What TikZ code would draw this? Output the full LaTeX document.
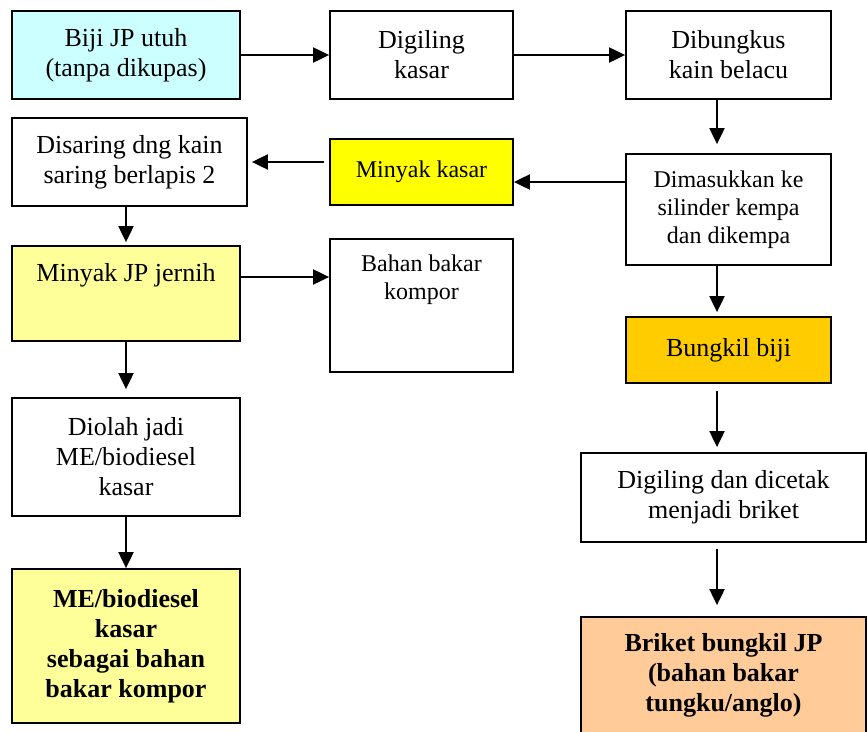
\documentclass[tikz,border=0pt]{standalone}
\usepackage{fontspec}
\setmainfont{Liberation Serif}
\usetikzlibrary{arrows.meta}
\definecolor{birumuda}{HTML}{CCFFFF}
\definecolor{kuning}{HTML}{FFFF00}
\definecolor{kuningmuda}{HTML}{FFFF99}
\definecolor{emas}{HTML}{FFCC00}
\definecolor{jingga}{HTML}{FFCC99}
\tikzset{
  box/.style={draw, line width=1.8pt, fill=white, align=center, inner sep=2pt,
    font=\fontsize{26}{30}\selectfont},
  smallbox/.style={box, font=\fontsize{24}{28}\selectfont},
  toptext/.style={anchor=north, inner sep=0pt, align=center},
  arr/.style={-{Triangle[length=16pt,width=15pt]}, line width=2pt},
}
\begin{document}
\begin{tikzpicture}[x=1pt,y=-1pt]
            \useasboundingbox (0,0) rectangle (867,731);

            \node[box, fill=birumuda, minimum width=228pt, minimum height=88pt] (biji) at (126,55) {Biji JP utuh\\(tanpa dikupas)};
            \node[box, minimum width=183pt, minimum height=88pt] (digiling) at (421.5,55) {Digiling\\kasar};
            \node[box, minimum width=205pt, minimum height=88pt] (bungkus) at (728.5,55) {Dibungkus\\kain belacu};

            \node[box, minimum width=235pt, minimum height=88pt] (saring) at (129.5,162) {Disaring dng kain\\saring berlapis 2};
            \node[smallbox, fill=kuning, minimum width=183pt, minimum height=66pt] (mkasar) at (421.5,172) {Minyak kasar};
            \node[smallbox, minimum width=205pt, minimum height=111pt] (kempa) at (728.5,209.5) {Dimasukkan ke\\silinder kempa\\dan dikempa};

            \node[box, fill=kuningmuda, minimum width=228pt, minimum height=95pt] (jernih) at (126,293.5) {};
            \node[toptext, font=\fontsize{26}{30}\selectfont] (jernihteks) at ([yshift=-18pt]jernih.north) {Minyak JP jernih};
            \node[smallbox, minimum width=183pt, minimum height=133pt] (kompor) at (421.5,305.5) {};
            \node[toptext, font=\fontsize{24}{28}\selectfont] (komporteks) at ([yshift=-17pt]kompor.north) {Bahan bakar\\kompor};
            \node[box, fill=emas, minimum width=205pt, minimum height=66pt] (bungkil) at (728.5,350) {Bungkil biji};

            \node[box, minimum width=228pt, minimum height=118pt] (olah) at (126,457) {Diolah jadi\\ME/biodiesel\\kasar};
            \node[box, minimum width=285pt, minimum height=89pt] (cetak) at (723.5,497.5) {Digiling dan dicetak\\menjadi briket};

            \node[box, fill=kuningmuda, minimum width=228pt, minimum height=154pt, font=\fontsize{26}{30}\selectfont\bfseries] (biodiesel) at (126,646) {ME/biodiesel\\kasar\\sebagai bahan\\bakar kompor};
            \node[box, fill=jingga, minimum width=285pt, minimum height=116pt] (briket) at (723.5,675) {};
            \node[toptext, font=\fontsize{26}{30}\selectfont\bfseries] (briketteks) at ([yshift=-17pt]briket.north) {Briket bungkil JP\\(bahan bakar\\tungku/anglo)};

            \coordinate (kanan) at (717,0);

            \draw[arr] (biji) -- (digiling);
            \draw[arr] (digiling) -- (bungkus);
            \draw[arr, shorten >=9pt] (bungkus.south -| kanan) -- (kempa.north -| kanan);
            \draw[arr] (kempa.west |- 0,182) -- (mkasar.east |- 0,182);
            \draw[arr, shorten <=5pt, shorten >=4pt] (mkasar.west |- saring) -- (saring);
            \draw[arr, shorten >=3pt] (saring.south -| jernih) -- (jernih.north);
            \draw[arr] (jernih.east |- 0,277) -- (kompor.west |- 0,277);
            \draw[arr, shorten >=8pt] (jernih) -- (olah);
            \draw[arr] (olah) -- (biodiesel);
            \draw[arr, shorten >=4pt] (kempa.south -| kanan) -- (bungkil.north -| kanan);
            \draw[arr, shorten <=7pt, shorten >=5pt] (bungkil.south -| kanan) -- (cetak.north -| kanan);
            \draw[arr, shorten <=6pt, shorten >=11pt] (cetak.south -| kanan) -- (briket.north -| kanan);
        \end{tikzpicture}
\end{document}
